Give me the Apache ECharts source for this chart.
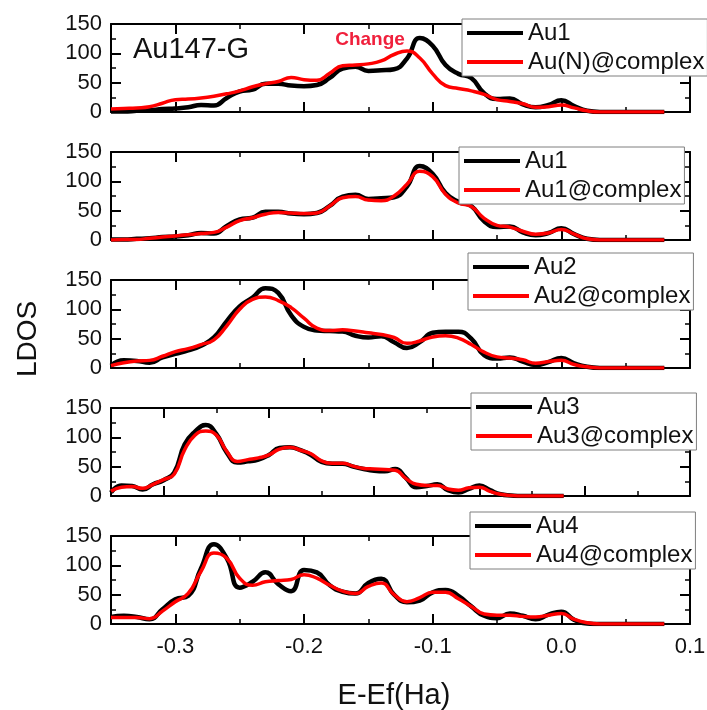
<!DOCTYPE html>
<html>
<head>
<meta charset="utf-8">
<script src="https://cdn.jsdelivr.net/npm/echarts@6/dist/echarts.min.js"></script>
<style>
html, body { margin: 0; padding: 0; background: #fff; }
#chart { width: 707px; height: 710px; }
</style>
</head>
<body>
<div id="chart"></div>
<script>
// energy grid (Ha), shared by all panels
var energy = [-0.35, -0.34, -0.33, -0.32, -0.31, -0.30, -0.29, -0.28, -0.27, -0.26,
              -0.25, -0.24, -0.23, -0.22, -0.21, -0.20, -0.19, -0.18, -0.17, -0.16,
              -0.15, -0.14, -0.13, -0.12, -0.11, -0.10, -0.09, -0.08, -0.07, -0.06,
              -0.05, -0.04, -0.03, -0.02, -0.01, 0.00, 0.01, 0.02, 0.03, 0.04,
              0.05, 0.06, 0.07, 0.08];

var au1  = [1, 1, 2, 3, 5, 6, 8, 12, 11, 24, 35, 38, 48, 48, 45, 44, 46, 58, 74, 77,
            70, 71, 73, 91, 126, 113, 80, 65, 58, 32, 22, 23, 13, 8, 12, 20, 10, 2, 0, 0, 0, 0, 0, 0];
var auN  = [5, 6, 7, 9, 15, 21, 22, 24, 27, 31, 36, 43, 48, 52, 59, 55, 54, 66, 79, 80,
            82, 87, 98, 104, 92, 65, 45, 40, 36, 30, 21, 18, 14, 8, 9, 12, 7, 2, 0, 0, 0, 0, 0, 0];
var au1c = [0, 1, 1, 3, 5, 7, 9, 11, 13, 22, 33, 38, 44, 47, 46, 45, 46, 58, 72, 74,
            68, 67, 75, 95, 117, 108, 78, 63, 57, 37, 25, 22, 15, 10, 12, 18, 10, 2, 0, 0, 0, 0, 0, 0];
var au2  = [4, 13, 12, 9, 18, 24, 30, 38, 52, 80, 105, 120, 136, 128, 90, 70, 64, 63, 62, 55,
            52, 54, 44, 34, 44, 60, 62, 62, 50, 22, 16, 18, 11, 5, 10, 17, 8, 2, 0, 0, 0, 0, 0, 0];
var au2c = [4, 9, 12, 13, 20, 28, 33, 40, 48, 72, 100, 117, 121, 115, 103, 85, 68, 64, 65, 63,
            60, 57, 52, 42, 46, 53, 55, 51, 40, 27, 19, 17, 14, 8, 11, 13, 6, 2, 0, 0, 0, 0, 0, 0];
var au3  = [6, 18, 17, 11, 20, 27, 40, 88, 110, 121, 106, 74, 57, 59, 62, 70, 82, 83, 78, 70,
            58, 55, 55, 50, 46, 43, 42, 46, 31, 15, 17, 20, 10, 6, 12, 18, 10, 3, 1, 0, 0, 0, 0, 0];
var au3c = [8, 15, 16, 13, 20, 28, 37, 79, 104, 111, 104, 76, 59, 62, 65, 70, 80, 83, 78, 72,
            60, 56, 56, 51, 47, 46, 45, 44, 30, 20, 18, 18, 12, 10, 14, 15, 8, 3, 1, 0, 0, 0, 0, 0];
var au4  = [12, 14, 12, 8, 25, 42, 48, 95, 136, 112, 62, 72, 88, 68, 56, 92, 88, 66, 55, 52,
            70, 77, 50, 37, 40, 54, 58, 48, 30, 14, 10, 18, 14, 8, 16, 21, 7, 1, 0, 0, 0, 0, 0, 0];
var au4c = [11, 11, 11, 9, 22, 38, 52, 90, 121, 112, 78, 66, 72, 74, 76, 84, 78, 66, 56, 52,
            64, 70, 50, 38, 45, 54, 54, 43, 30, 17, 15, 15, 13, 12, 15, 18, 8, 2, 0, 0, 0, 0, 0, 0];

var blackNames = ['Au1', 'Au1', 'Au2', 'Au3', 'Au4'];
var redNames = ['Au(N)@complex', 'Au1@complex', 'Au2@complex', 'Au3@complex', 'Au4@complex'];
var blackData = [au1, au1, au2, au3, au4];
var redData = [auN, au1c, au2c, au3c, au4c];
var xMaxes = [0.1, 0.1, 0.1, 0.2, 0.1];   // panel 4 was drawn on a wider axis
var xMajor = [-0.3, -0.2, -0.1, 0, 0.1, 0.2];
var xLabels = [-0.3, -0.2, -0.1, 0, 0.1];

var font = 'Liberation Sans, Arial, sans-serif';
var tops = [24, 152, 280, 408, 536];
var legendPos = [[462, 19], [459, 147], [468, 253], [471, 393], [470, 512]];

function pairs(ys) {
    return energy.map(function(x, i) { return [x, ys[i]]; });
}

var grids = [], xAxes = [], yAxes = [], series = [], legends = [];

for (var i = 0; i < 5; i++) {
    var last = (i === 4);
    grids.push({ left: 111, top: tops[i], width: 579, height: 88, containLabel: false, outerBoundsMode: 'none' });

    ['bottom', 'top'].forEach(function(pos) {
        xAxes.push({
            gridIndex: i, type: 'value', position: pos, min: -0.35, max: xMaxes[i],
            axisLine: { show: true, onZero: false, lineStyle: { color: '#000', width: 2 } },
            axisTick: { show: true, inside: true, length: 10, customValues: xMajor,
                        lineStyle: { color: '#000', width: 2 } },
            axisLabel: { show: last && pos === 'bottom', customValues: xLabels,
                         formatter: function(v) { return v.toFixed(1); },
                         fontSize: 22, color: '#111', margin: 12, fontFamily: font },
            splitLine: { show: false }
        });
        // minor ticks every 0.05
        xAxes.push({
            gridIndex: i, type: 'value', position: pos, min: -0.35, max: xMaxes[i], interval: 0.05,
            axisLine: { show: false, onZero: false },
            axisTick: { show: true, inside: true, length: 5, lineStyle: { color: '#000', width: 1.5 } },
            axisLabel: { show: false },
            splitLine: { show: false }
        });
    });

    ['left', 'right'].forEach(function(pos) {
        yAxes.push({
            gridIndex: i, type: 'value', position: pos, min: 0, max: 150, interval: 50,
            axisLine: { show: true, onZero: false, lineStyle: { color: '#000', width: 2 } },
            axisTick: { show: true, inside: true, length: 10, lineStyle: { color: '#000', width: 2 } },
            minorTick: { show: true, splitNumber: 2, length: 5, lineStyle: { color: '#000', width: 1.5 } },
            axisLabel: { show: pos === 'left', fontSize: 22, color: '#111', margin: 9, fontFamily: font },
            splitLine: { show: false },
            minorSplitLine: { show: false }
        });
    });

    series.push({
        type: 'line', name: blackNames[i], xAxisIndex: i * 4, yAxisIndex: i * 2,
        data: pairs(blackData[i]), smooth: 0.5, symbol: 'none', showSymbol: false,
        itemStyle: { color: '#000' }, lineStyle: { color: '#000', width: 4.5 }, z: 2
    });
    series.push({
        type: 'line', name: redNames[i], xAxisIndex: i * 4, yAxisIndex: i * 2,
        data: pairs(redData[i]), smooth: 0.5, symbol: 'none', showSymbol: false,
        itemStyle: { color: '#ff0000' }, lineStyle: { color: '#ff0000', width: 3.5 }, z: 3
    });

    legends.push({
        orient: 'vertical', left: legendPos[i][0], top: legendPos[i][1],
        data: [blackNames[i], redNames[i]],
        icon: 'rect', itemWidth: 56, itemHeight: 4, itemGap: 5,
        padding: [2, 3, 2, 5],
        backgroundColor: '#fff', borderColor: '#7f7f7f', borderWidth: 1,
        selectedMode: false,
        textStyle: { fontSize: 24, lineHeight: 24, color: '#111', fontFamily: font },
        z: 10
    });
}

var chart = echarts.init(document.getElementById('chart'), null, { renderer: 'canvas' });
chart.setOption({
    backgroundColor: '#fff',
    animation: false,
    grid: grids,
    xAxis: xAxes,
    yAxis: yAxes,
    legend: legends,
    series: series,
    graphic: [
        { type: 'text', x: 191, y: 50, z: 20,
          style: { text: 'Au147-G', fontSize: 29, fontFamily: font, fill: '#111', align: 'center', verticalAlign: 'middle' } },
        { type: 'text', x: 370, y: 40, z: 20,
          style: { text: 'Change', fontSize: 19, fontWeight: 'bold', fontFamily: font, fill: '#f0203c', align: 'center', verticalAlign: 'middle' } },
        { type: 'text', x: 28, y: 339, rotation: Math.PI / 2, z: 20,
          style: { text: 'LDOS', fontSize: 28, fontFamily: font, fill: '#111', align: 'center', verticalAlign: 'middle' } },
        { type: 'text', x: 394, y: 696, z: 20,
          style: { text: 'E-Ef(Ha)', fontSize: 29, fontFamily: font, fill: '#111', align: 'center', verticalAlign: 'middle' } }
    ]
});
</script>
</body>
</html>
